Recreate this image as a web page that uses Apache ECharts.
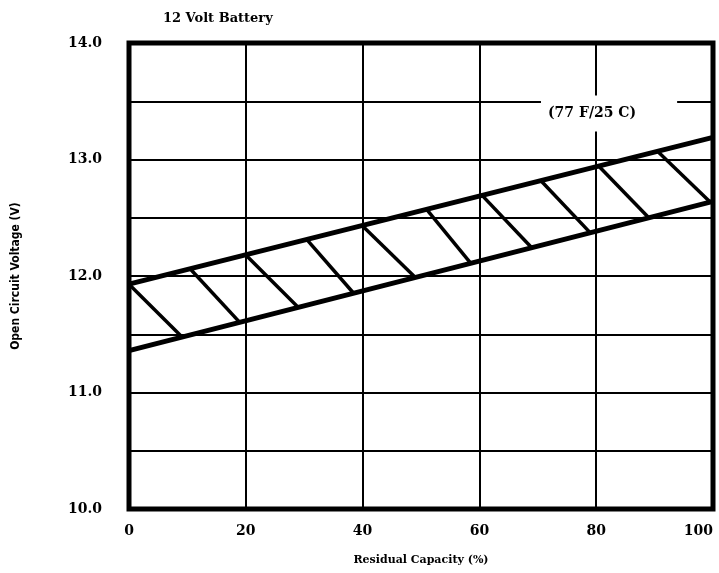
<!DOCTYPE html>
<html>
<head>
<meta charset="utf-8">
<script src="https://cdn.jsdelivr.net/npm/echarts@6/dist/echarts.min.js"></script>
<style>html,body{margin:0;padding:0;background:#fff;}#c{width:719px;height:573px;}</style>
</head>
<body>
<div id="c"></div>
<script>
// Data
var titleText = '12 Volt Battery';
var xTicks = [0, 20, 40, 60, 80, 100];
var yTicks = ['10.0', '11.0', '12.0', '13.0', '14.0'];
var upperLine = [[0, 11.93], [100, 13.19]];
var lowerLine = [[0, 11.36], [100, 12.64]];
// hatch segments: start on upper line, end on lower line
var hatchStartX = [0, 10.5, 20, 30.5, 40, 51, 60.5, 70.5, 80.5, 90.5];
var hatchStartY = [11.93, 12.06, 12.18, 12.31, 12.43, 12.57, 12.69, 12.82, 12.94, 13.07];
var hatchEndX = [9, 19, 29, 38.5, 49, 58.5, 69, 79, 89, 99.6];
var hatchEndY = [11.48, 11.60, 11.73, 11.85, 11.99, 12.11, 12.24, 12.37, 12.50, 12.63];
var noteText = '(77 F/25 C)';
var notePos = [82.2, 13.395];

var hatchData = hatchStartX.map(function (x, i) {
  return { coords: [[x, hatchStartY[i]], [hatchEndX[i], hatchEndY[i]]] };
});

var serif = 'DejaVu Serif';
var chart = echarts.init(document.getElementById('c'), null, { renderer: 'canvas' });
chart.setOption({
  animation: false,
  backgroundColor: '#fff',
  title: {
    text: titleText,
    left: 158, top: 7,
    textStyle: { fontFamily: serif, fontWeight: 'bold', fontSize: 13, color: '#000' }
  },
  grid: {
    left: 129, right: 6, top: 43, bottom: 64,
    containLabel: false, outerBoundsMode: 'none',
    show: true, borderColor: '#000', borderWidth: 5, backgroundColor: 'transparent'
  },
  xAxis: {
    type: 'value', min: 0, max: 100, interval: 20,
    name: 'Residual Capacity (%)', nameLocation: 'middle', nameGap: 46,
    nameTextStyle: { fontFamily: serif, fontWeight: 'bold', fontSize: 11, color: '#000' },
    axisLine: { show: false }, axisTick: { show: false },
    axisLabel: {
      margin: 15, color: '#000', fontFamily: serif, fontWeight: 'bold', fontSize: 14,
      alignMaxLabel: 'right',
      formatter: function (v) { return xTicks.indexOf(v) >= 0 ? String(v) : ''; }
    },
    splitLine: { show: true, lineStyle: { color: '#000', width: 2 } }
  },
  yAxis: {
    type: 'value', min: 10, max: 14, interval: 0.5,
    name: 'Open Circuit Voltage (V)', nameLocation: 'middle', nameGap: 107,
    nameRotate: 90,
    nameTextStyle: { fontFamily: 'DejaVu Sans Condensed', fontWeight: 'bold', fontSize: 12, color: '#000' },
    axisLine: { show: false }, axisTick: { show: false },
    axisLabel: {
      margin: 27, color: '#000', fontFamily: serif, fontWeight: 'bold', fontSize: 14,
      formatter: function (v) { var s = v.toFixed(1); return yTicks.indexOf(s) >= 0 ? s : ''; }
    },
    splitLine: { show: true, lineStyle: { color: '#000', width: 2 } }
  },
  series: [
    {
      type: 'line', data: upperLine, showSymbol: false, symbol: 'none',
      lineStyle: { color: '#000', width: 5 }, z: 5
    },
    {
      type: 'line', data: lowerLine, showSymbol: false, symbol: 'none',
      lineStyle: { color: '#000', width: 5 }, z: 5
    },
    {
      type: 'lines', coordinateSystem: 'cartesian2d', data: hatchData,
      lineStyle: { color: '#000', width: 3.5, opacity: 1 }, z: 4
    },
    {
      type: 'scatter', data: [notePos], symbolSize: 0,
      itemStyle: { color: 'transparent', opacity: 1 }, z: 6, silent: true,
      label: {
        show: true, position: 'inside', formatter: noteText,
        fontFamily: serif, fontWeight: 'bold', fontSize: 14, color: '#000', opacity: 1,
        backgroundColor: '#fff', padding: [11, 41, 11, 7]
      }
    }
  ]
});
</script>
</body>
</html>
